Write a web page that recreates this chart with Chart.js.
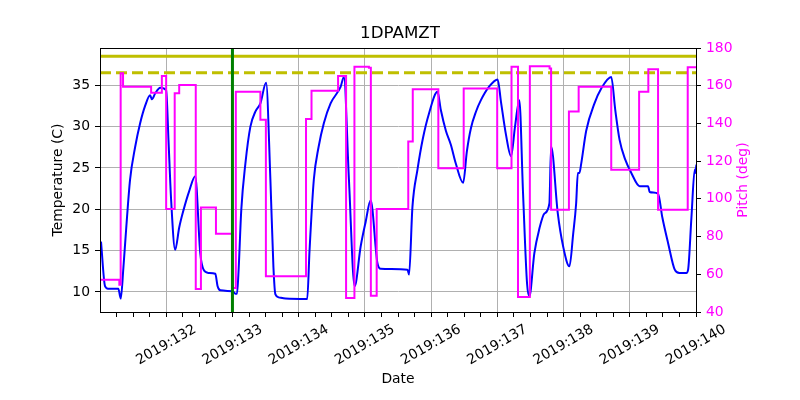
<!DOCTYPE html>
<html>
<head>
<meta charset="utf-8">
<script src="https://cdn.jsdelivr.net/npm/chart.js@4"></script>
<style>
  body { margin: 0; background: #fff; }
  #wrap { width: 800px; height: 400px; }
</style>
</head>
<body>
<div id="wrap"><canvas id="chart"></canvas></div>
<script>
// Data (day of year 2019)
const year = 2019;
const dayTicks = [132, 133, 134, 135, 136, 137, 138, 139, 140];
const tempTicks = [10, 15, 20, 25, 30, 35];
const pitchTicks = [40, 60, 80, 100, 120, 140, 160, 180];

const tempDays = [
  131.015, 131.076, 131.121, 131.277, 131.313, 131.353, 131.394, 131.454, 131.530, 131.606,
  131.681, 131.757, 131.783, 131.833, 131.908, 131.999, 132.034, 132.075, 132.135, 132.196,
  132.261, 132.347, 132.438, 132.514, 132.564, 132.639, 132.741, 132.776, 132.817, 133.003,
  133.044, 133.069, 133.089, 133.134, 133.195, 133.271, 133.346, 133.422, 133.508, 133.573,
  133.619, 133.649, 133.699, 133.801, 134.129, 134.164, 134.229, 134.300, 134.380, 134.482,
  134.633, 134.683, 134.759, 134.845, 134.936, 135.012, 135.087, 135.189, 135.239, 135.643,
  135.667, 135.718, 135.794, 135.874, 135.965, 136.097, 136.147, 136.223, 136.298, 136.374,
  136.484, 136.540, 136.601, 136.677, 136.752, 136.873, 137.005, 137.055, 137.131, 137.207,
  137.267, 137.332, 137.388, 137.449, 137.484, 137.559, 137.630, 137.711, 137.786, 137.812,
  137.913, 137.994, 138.089, 138.145, 138.190, 138.216, 138.240, 138.266, 138.342, 138.467,
  138.569, 138.720, 138.781, 138.846, 138.932, 139.023, 139.149, 139.276, 139.300, 139.427,
  139.492, 139.579, 139.679, 139.750, 139.856, 139.881, 139.931, 139.981, 139.992, 140.007
];
const tempValues = [
  16.1, 10.7, 10.4, 10.4, 9.2, 12.9, 17.5, 23.6, 27.5, 30.4,
  32.5, 33.8, 33.3, 34.0, 34.7, 34.4, 28.4, 21.0, 15.1, 17.8,
  19.9, 22.2, 24.0, 14.7, 12.7, 12.3, 12.2, 10.7, 10.2, 10.1,
  9.8, 9.8, 12.0, 20.0, 25.5, 30.0, 31.8, 32.8, 35.3, 23.6,
  13.0, 9.7, 9.35, 9.2, 9.15, 15.0, 23.6, 27.5, 30.4, 32.8,
  34.8, 36.0, 23.6, 10.7, 15.5, 18.5, 21.1, 13.5, 12.8, 12.7,
  12.1, 20.3, 24.8, 28.5, 31.5, 34.2, 32.0, 29.5, 27.8, 25.5,
  23.2, 27.0, 29.8, 31.8, 33.2, 34.8, 35.7, 33.0, 29.0, 26.4,
  30.0, 33.2, 22.0, 11.0, 9.5, 14.7, 17.5, 19.5, 20.7, 27.6,
  19.5, 15.5, 13.1, 17.0, 20.7, 24.4, 24.4, 25.5, 29.5, 32.8,
  34.6, 36.0, 32.0, 28.4, 26.0, 24.4, 22.8, 22.8, 22.1, 21.9,
  19.0, 15.9, 12.7, 12.3, 12.3, 12.7, 19.0, 24.8, 24.4, 25.4
];

// pitch is a step series: each value holds from its day until the next one
const pitchDays = [
  131.000, 131.292, 131.312, 131.348, 131.772, 131.934, 131.999, 132.128, 132.196, 132.446,
  132.524, 132.751, 133.006, 133.051, 133.422, 133.505, 134.111, 134.194, 134.595, 134.716,
  134.842, 135.061, 135.090, 135.178, 135.655, 135.723, 136.109, 136.492, 136.998, 137.214,
  137.312, 137.491, 137.789, 137.812, 138.081, 138.228, 138.720, 139.141, 139.280, 139.427,
  139.875, 140.007
];
const pitchValues = [
  57.1, 54.5, 166.6, 159.5, 156.3, 165.2, 94.6, 156.0, 160.4, 52.2,
  95.4, 81.5, 52.7, 156.8, 141.9, 58.9, 142.4, 157.4, 165.2, 47.4,
  170.1, 169.5, 48.6, 94.6, 130.4, 158.1, 116.3, 158.6, 116.3, 170.1,
  47.9, 170.4, 169.2, 94.2, 146.3, 159.5, 115.4, 156.8, 168.7, 94.2,
  169.8, 169.8
];

const limitDays = [131, 140];
const planningLimit = 38.5;
const cautionLimit = 36.5;
const markerDay = 133.0;
const tempRange = [7.58, 39.5];
const pitchRange = [40, 180];

Chart.defaults.font.family = 'DejaVu Sans';
Chart.defaults.font.size = 13.9;
Chart.defaults.color = '#000';

const dayLabel = d => year + ':' + d;

// top spine, matplotlib-style centred date labels and the right axis title
const framePlugin = {
  id: 'frame',
  afterDraw(chart) {
    const a = chart.chartArea;
    const ctx = chart.ctx;
    ctx.save();
    ctx.strokeStyle = '#000';
    ctx.lineWidth = 1;
    ctx.strokeRect(Math.round(a.left) + 0.5, Math.round(a.top) + 0.5,
      Math.round(a.right - a.left), Math.round(a.bottom - a.top));
    ctx.font = '13.9px "DejaVu Sans"';
    ctx.textAlign = 'center';
    ctx.textBaseline = 'middle';

    const xs = chart.scales.x;
    ctx.fillStyle = '#000';
    dayTicks.forEach(d => {
      ctx.save();
      ctx.translate(xs.getPixelForValue(d), a.bottom + 33);
      ctx.rotate(-Math.PI / 6);
      ctx.fillText(dayLabel(d), 0, 0);
      ctx.restore();
    });

    const s = chart.scales.y2;
    ctx.translate(s.right - 57, (a.top + a.bottom) / 2);
    ctx.rotate(-Math.PI / 2);
    ctx.fillStyle = '#ff00ff';
    ctx.fillText('Pitch (deg)', 0, 0);
    ctx.restore();
  }
};

const ctx = document.getElementById('chart').getContext('2d');
new Chart(ctx, {
  type: 'line',
  data: {
    datasets: [
      {
        label: 'marker',
        data: [{ x: markerDay, y: tempRange[0] }, { x: markerDay, y: tempRange[1] }],
        yAxisID: 'y',
        borderColor: '#008000',
        borderWidth: 3,
        pointRadius: 0,
        order: 0
      },
      {
        label: 'Pitch',
        data: pitchDays.map((d, i) => ({ x: d, y: pitchValues[i] })),
        yAxisID: 'y2',
        stepped: true,
        borderColor: '#ff00ff',
        borderWidth: 2,
        pointRadius: 0,
        order: 1
      },
      {
        label: '1DPAMZT',
        data: tempDays.map((d, i) => ({ x: d, y: tempValues[i] })),
        yAxisID: 'y',
        borderColor: '#0000ff',
        borderWidth: 2,
        pointRadius: 0,
        cubicInterpolationMode: 'monotone',
        order: 2
      },
      {
        label: 'planning limit',
        data: limitDays.map(d => ({ x: d, y: planningLimit })),
        yAxisID: 'y',
        borderColor: '#bfbf00',
        borderWidth: 3,
        pointRadius: 0,
        order: 3
      },
      {
        label: 'caution limit',
        data: limitDays.map(d => ({ x: d, y: cautionLimit })),
        yAxisID: 'y',
        borderColor: '#bfbf00',
        borderWidth: 3,
        borderDash: [11, 5],
        pointRadius: 0,
        order: 3
      }
    ]
  },
  options: {
    responsive: true,
    maintainAspectRatio: false,
    animation: false,
    layout: { padding: 0 },
    plugins: {
      legend: { display: false },
      tooltip: { enabled: false },
      title: {
        display: true,
        text: '1DPAMZT',
        color: '#000',
        font: { size: 16.7, weight: 'normal' },
        padding: { top: 24, bottom: 4 }
      }
    },
    scales: {
      x: {
        type: 'linear',
        position: 'bottom',
        min: limitDays[0],
        max: limitDays[1],
        afterBuildTicks: scale => {
          const ticks = [];
          for (let d = dayTicks[0] - 1; d <= dayTicks[dayTicks.length - 1]; d += 0.25) {
            if (d > scale.min) ticks.push({ value: d });
          }
          scale.ticks = ticks;
        },
        afterFit: scale => { scale.height = 88; },
        ticks: { display: false, autoSkip: false },
        grid: {
          color: c => (c.tick && Number.isInteger(c.tick.value)) ? '#b0b0b0' : 'rgba(0,0,0,0)',
          tickColor: '#000',
          tickLength: 5,
          lineWidth: 1
        },
        border: { color: '#000', width: 1 },
        title: {
          display: true,
          text: 'Date',
          color: '#000',
          padding: { top: 0, bottom: 12 }
        }
      },
      y: {
        type: 'linear',
        position: 'left',
        min: tempRange[0],
        max: tempRange[1],
        afterBuildTicks: scale => { scale.ticks = tempTicks.map(v => ({ value: v })); },
        afterFit: scale => { scale.width = 100; },
        ticks: { color: '#000', padding: 5 },
        grid: { color: '#b0b0b0', tickColor: '#000', tickLength: 5, lineWidth: 1 },
        border: { color: '#000', width: 1 },
        title: {
          display: true,
          text: 'Temperature (C)',
          color: '#000',
          padding: { top: 50, bottom: 0 }
        }
      },
      y2: {
        type: 'linear',
        position: 'right',
        min: pitchRange[0],
        max: pitchRange[1],
        afterBuildTicks: scale => { scale.ticks = pitchTicks.map(v => ({ value: v })); },
        afterFit: scale => { scale.width = 104; },
        ticks: { color: '#ff00ff', padding: 5 },
        grid: { drawOnChartArea: false, tickColor: '#000', tickLength: 5 },
        border: { color: '#000', width: 1 }
      }
    }
  },
  plugins: [framePlugin]
});
</script>
</body>
</html>
